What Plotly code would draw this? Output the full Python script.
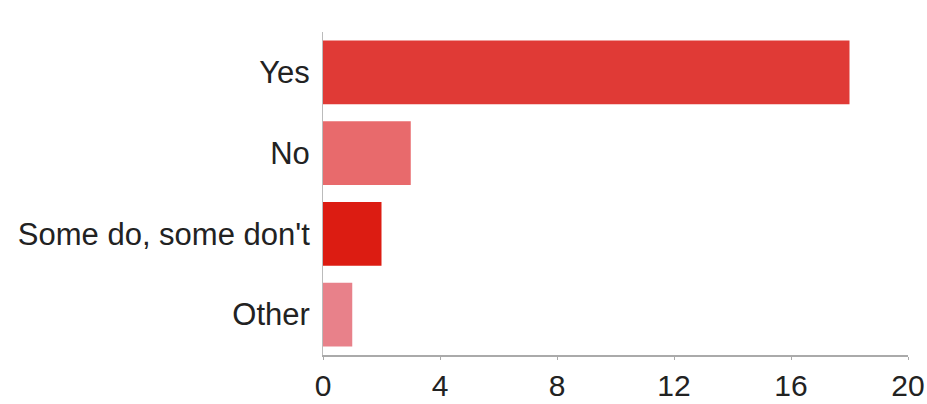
import plotly.graph_objects as go

categories = ["Yes", "No", "Some do, some don't", "Other"]
values = [18, 3, 2, 1]
colors = ["#e03a36", "#e86a6c", "#dc1c12", "#e8818a"]
x_ticks = [0, 4, 8, 12, 16, 20]

fig = go.Figure(go.Bar(
    x=values, y=categories, orientation="h",
    marker=dict(color=colors, line=dict(width=0)),
))

fig.update_layout(
    width=927, height=404, autosize=False,
    margin=dict(l=323, r=19, t=32, b=49, pad=0),
    paper_bgcolor="white", plot_bgcolor="white",
    bargap=0.21, showlegend=False,
    font=dict(family="Liberation Sans, Arial, sans-serif", size=31, color="#222222"),
)
fig.update_xaxes(
    range=[0, 20], tickvals=x_ticks, showgrid=False, zeroline=False,
    showline=True, linecolor="#aaaaaa", linewidth=2, automargin=False,
    ticks="outside", ticklen=3, tickcolor="#aaaaaa", tickwidth=1,
    tickfont=dict(size=30),
)
fig.update_yaxes(
    categoryorder="array", categoryarray=categories[::-1], automargin=False,
    showgrid=False, zeroline=False, showline=True, linecolor="#bbbbbb", linewidth=1,
    ticks="", ticklabelstandoff=6,
)

fig.write_html(
    "out.html",
    config={"displayModeBar": False},
    post_script="document.body.style.margin='0';document.body.style.overflow='hidden';",
)
